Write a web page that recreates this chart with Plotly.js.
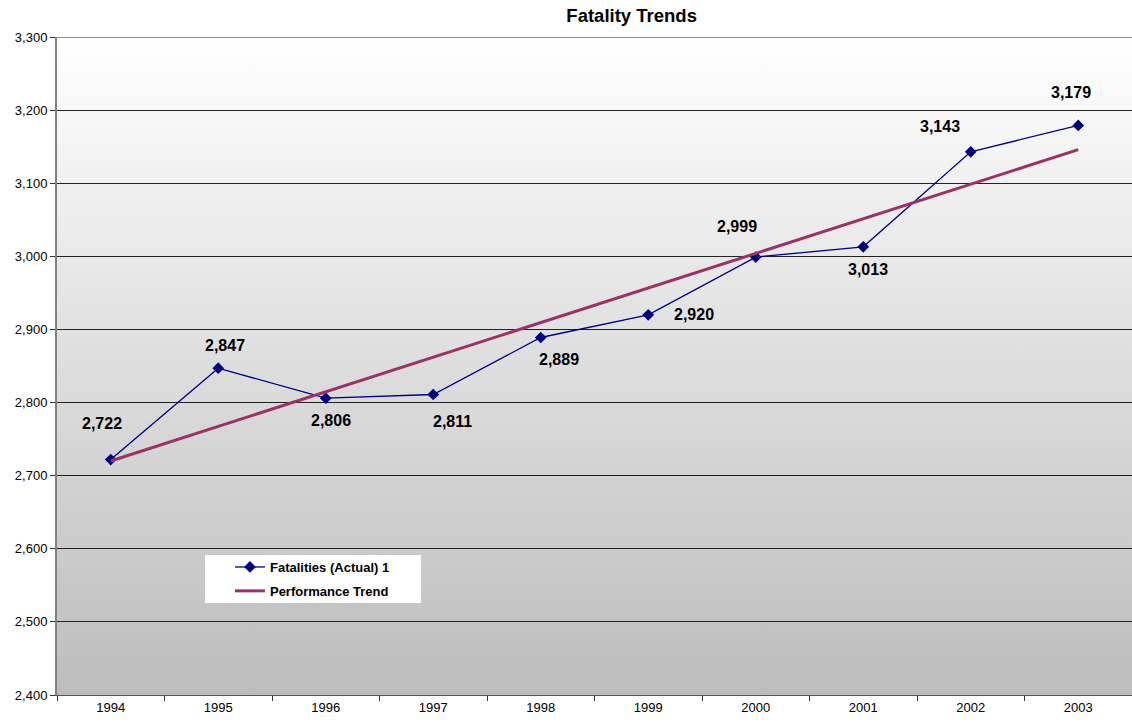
<!DOCTYPE html>
<html>
<head>
<meta charset="utf-8">
<script src="https://cdn.plot.ly/plotly-3.0.1.min.js"></script>
<style>
  html, body { margin: 0; padding: 0; background: #ffffff; }
  #chart { width: 1132px; height: 723px; }
</style>
</head>
<body>
<div id="chart"></div>
<script>
// ---- Data ----
const years = ['1994','1995','1996','1997','1998','1999','2000','2001','2002','2003'];
const fatalities = [2722, 2847, 2806, 2811, 2889, 2920, 2999, 3013, 3143, 3179];
const trendYears = ['1994', '2003'];
const trendValues = [2720, 3146];
const yTickVals = [2400, 2500, 2600, 2700, 2800, 2900, 3000, 3100, 3200, 3300];

// ---- Style: label offsets in pixels (x, y) ----
const labelShift = [[-9, 36], [7, 23], [5, -22], [19, -27], [18, -22], [46, 0], [-19, 31], [5, -23], [-31, 25], [-7, 33]];

const font = 'Liberation Sans, Arial, sans-serif';

const gradSvg = "<svg xmlns='http://www.w3.org/2000/svg' width='100' height='100' preserveAspectRatio='none'>" +
  "<defs><linearGradient id='g' x1='0' y1='0' x2='0' y2='1'>" +
  "<stop offset='0' stop-color='#ffffff'/><stop offset='1' stop-color='#bcbcbc'/>" +
  "</linearGradient></defs><rect width='100' height='100' fill='url(#g)'/></svg>";
const gradUrl = 'data:image/svg+xml;charset=utf-8,' + encodeURIComponent(gradSvg);

const fmt = v => v.toLocaleString('en-US');

const traces = [
  {
    x: years, y: fatalities, type: 'scatter', mode: 'lines+markers',
    name: 'Fatalities (Actual) 1',
    legendgroup: 'a',
    line: { color: '#000080', width: 1.3 },
    marker: { symbol: 'diamond', size: 9, color: '#000080' },
    hoverinfo: 'x+y'
  },
  {
    x: trendYears, y: trendValues, type: 'scatter', mode: 'lines',
    name: 'Performance Trend',
    legendgroup: 'b',
    line: { color: '#993366', width: 3 },
    hoverinfo: 'skip'
  }
];

const annotations = fatalities.map((v, i) => ({
  x: i, y: v, xref: 'x', yref: 'y',
  text: '<b>' + fmt(v) + '</b>', showarrow: false,
  xshift: labelShift[i][0], yshift: labelShift[i][1],
  font: { family: font, size: 16, color: '#000000' }
}));

const layout = {
  width: 1132, height: 723,
  margin: { l: 57, r: 0, t: 37, b: 28 },
  paper_bgcolor: '#ffffff',
  plot_bgcolor: 'rgba(0,0,0,0)',
  font: { family: font, size: 13, color: '#000000' },
  title: {
    text: '<b>Fatality Trends</b>',
    font: { family: font, size: 18.5, color: '#000000' },
    x: 0.558, xanchor: 'center', y: 0.978, yanchor: 'middle'
  },
  showlegend: true,
  legend: {
    x: 0.1609, y: 0.2173, xanchor: 'left', yanchor: 'top',
    bgcolor: 'rgba(0,0,0,0)', borderwidth: 0,
    font: { family: font, size: 13, color: '#000000', weight: 'bold' },
    itemwidth: 30, tracegroupgap: 4
  },
  xaxis: {
    type: 'category', categoryorder: 'array', categoryarray: years,
    range: [-0.5, 9.5],
    showgrid: false, zeroline: false,
    showline: true, linecolor: '#555555', linewidth: 1,
    ticks: 'outside', tickson: 'boundaries', ticklen: 5, tickcolor: '#333333',
    tickfont: { family: font, size: 13, color: '#000000' },
    fixedrange: true
  },
  yaxis: {
    range: [2400, 3300],
    tickvals: yTickVals, ticktext: yTickVals.map(fmt),
    showgrid: true, gridcolor: '#222222', gridwidth: 1,
    zeroline: false,
    showline: true, linecolor: '#808080', linewidth: 2,
    ticks: 'outside', ticklen: 5, tickcolor: '#333333',
    tickfont: { family: font, size: 13, color: '#000000' },
    fixedrange: true
  },
  shapes: [
    {
      type: 'line', xref: 'paper', yref: 'y', x0: 0, x1: 1, y0: 3300, y1: 3300,
      line: { color: '#222222', width: 1 }
    },
    {
      type: 'rect', xref: 'paper', yref: 'paper', layer: 'between',
      x0: 0.1377, x1: 0.3386, y0: 0.1398, y1: 0.2128,
      fillcolor: '#ffffff', line: { width: 0 }
    }
  ],
  images: [{
    source: gradUrl, xref: 'paper', yref: 'paper',
    x: 0, y: 1, sizex: 1, sizey: 1, xanchor: 'left', yanchor: 'top',
    sizing: 'stretch', layer: 'below'
  }],
  annotations: annotations
};

Plotly.newPlot('chart', traces, layout, { displayModeBar: false, staticPlot: true });
</script>
</body>
</html>
